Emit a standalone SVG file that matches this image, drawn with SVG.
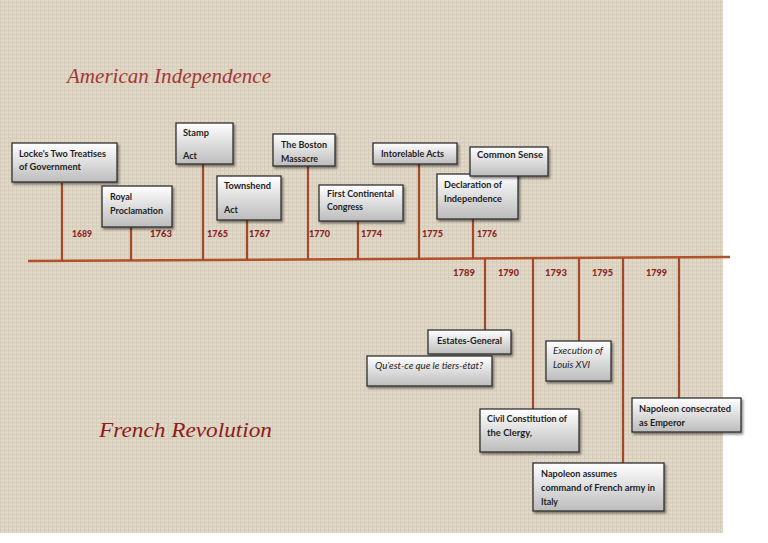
<svg xmlns="http://www.w3.org/2000/svg" width="768" height="543" viewBox="0 0 768 543">
<style>
.box{fill:url(#g);stroke:#2e2e2e;stroke-width:1.3;filter:url(#sh)}
.t{font-family:Lato,"Liberation Sans",Arial,sans-serif;font-size:9.5px;font-weight:bold;fill:#1e1e1e}
.i{font-style:italic;font-weight:normal}
.yr{font-family:Lato,"Liberation Sans",Arial,sans-serif;font-size:9.5px;font-weight:900;fill:#8a2424}
.stem{stroke:#a5482a;stroke-width:2.2;fill:none}
.ttl{font-family:"Liberation Serif","DejaVu Serif",serif;font-style:italic}
</style>
<defs>
<linearGradient id="g" x1="0" y1="0" x2="0" y2="1">
<stop offset="0" stop-color="#ffffff"/>
<stop offset="1" stop-color="#bcbcbc"/>
</linearGradient>
<filter id="sh" x="-10%" y="-10%" width="130%" height="140%">
<feDropShadow dx="1.5" dy="2" stdDeviation="1.2" flood-color="#000" flood-opacity="0.45"/>
</filter>
<pattern id="linen" width="4" height="4" patternUnits="userSpaceOnUse">
<rect width="4" height="4" fill="#ddd4c3"/>
<rect x="0" y="0" width="4" height="1" fill="#e3dbcc"/>
<rect x="0" y="0" width="1" height="4" fill="#d6ccba"/>
<rect x="2" y="2" width="1" height="1" fill="#d4cab7"/>
</pattern>
</defs>
<rect width="768" height="543" fill="#ffffff"/>
<rect x="0" y="0" width="723" height="533" fill="url(#linen)"/>

<text class="ttl" x="67" y="83" font-size="20" fill="#a33838" textLength="204" lengthAdjust="spacingAndGlyphs">American Independence</text>
<text class="ttl" x="99" y="437" font-size="22" fill="#8c1b1b" textLength="173" lengthAdjust="spacingAndGlyphs">French Revolution</text>

<g id="connectors">
<line x1="28" y1="261" x2="730" y2="257" stroke="#b0522b" stroke-width="2.6"/>
<line class="stem" x1="62" y1="183" x2="62" y2="261"/>
<line class="stem" x1="131" y1="227" x2="131" y2="261"/>
<line class="stem" x1="203" y1="164" x2="203" y2="260"/>
<line class="stem" x1="247" y1="220" x2="247" y2="260"/>
<line class="stem" x1="308" y1="166" x2="308" y2="260"/>
<line class="stem" x1="358" y1="221" x2="358" y2="259"/>
<line class="stem" x1="419" y1="164" x2="419" y2="259"/>
<line class="stem" x1="473" y1="219" x2="473" y2="259"/>
<line class="stem" x1="485" y1="259" x2="485" y2="330"/>
<line class="stem" x1="533" y1="258" x2="533" y2="409"/>
<line class="stem" x1="579" y1="258" x2="579" y2="341"/>
<line class="stem" x1="623" y1="258" x2="623" y2="463"/>
<line class="stem" x1="679" y1="258" x2="679" y2="398"/>
</g>

<g id="years">
<text class="yr" x="72" y="237" textLength="20" lengthAdjust="spacingAndGlyphs">1689</text>
<text class="yr" x="150" y="237" textLength="22" lengthAdjust="spacingAndGlyphs">1763</text>
<text class="yr" x="207" y="237" textLength="21" lengthAdjust="spacingAndGlyphs">1765</text>
<text class="yr" x="249" y="237" textLength="21" lengthAdjust="spacingAndGlyphs">1767</text>
<text class="yr" x="309" y="237" textLength="21" lengthAdjust="spacingAndGlyphs">1770</text>
<text class="yr" x="361" y="237" textLength="21" lengthAdjust="spacingAndGlyphs">1774</text>
<text class="yr" x="422" y="237" textLength="21" lengthAdjust="spacingAndGlyphs">1775</text>
<text class="yr" x="477" y="237" textLength="20" lengthAdjust="spacingAndGlyphs">1776</text>
<text class="yr" x="453" y="276" textLength="22" lengthAdjust="spacingAndGlyphs">1789</text>
<text class="yr" x="498" y="276" textLength="21" lengthAdjust="spacingAndGlyphs">1790</text>
<text class="yr" x="545" y="276" textLength="22" lengthAdjust="spacingAndGlyphs">1793</text>
<text class="yr" x="592" y="276" textLength="21" lengthAdjust="spacingAndGlyphs">1795</text>
<text class="yr" x="646" y="276" textLength="21" lengthAdjust="spacingAndGlyphs">1799</text>
</g>

<g id="locke">
<rect class="box" x="12" y="143" width="105" height="39"/>
<text class="t" x="19" y="157" textLength="87" lengthAdjust="spacingAndGlyphs">Locke's Two Treatises</text>
<text class="t" x="19" y="170" textLength="62" lengthAdjust="spacingAndGlyphs">of Government</text>
</g>
<g id="royal">
<rect class="box" x="102" y="186" width="70" height="41"/>
<text class="t" x="110" y="200" textLength="22" lengthAdjust="spacingAndGlyphs">Royal</text>
<text class="t" x="110" y="214" textLength="53" lengthAdjust="spacingAndGlyphs">Proclamation</text>
</g>
<g id="stamp">
<rect class="box" x="176" y="123" width="57" height="41"/>
<text class="t" x="183" y="136" textLength="26" lengthAdjust="spacingAndGlyphs">Stamp</text>
<text class="t" x="183" y="159" textLength="14" lengthAdjust="spacingAndGlyphs">Act</text>
</g>
<g id="townshend">
<rect class="box" x="217" y="176" width="64" height="44"/>
<text class="t" x="224" y="189" textLength="47" lengthAdjust="spacingAndGlyphs">Townshend</text>
<text class="t" x="224" y="213" textLength="14" lengthAdjust="spacingAndGlyphs">Act</text>
</g>
<g id="boston">
<rect class="box" x="273" y="134" width="62" height="32"/>
<text class="t" x="281" y="148" textLength="46" lengthAdjust="spacingAndGlyphs">The Boston</text>
<text class="t" x="281" y="162" textLength="37" lengthAdjust="spacingAndGlyphs">Massacre</text>
</g>
<g id="congress">
<rect class="box" x="319" y="185" width="84" height="36"/>
<text class="t" x="327" y="197" textLength="67" lengthAdjust="spacingAndGlyphs">First Continental</text>
<text class="t" x="327" y="210" textLength="36" lengthAdjust="spacingAndGlyphs">Congress</text>
</g>
<g id="intolerable">
<rect class="box" x="373" y="143" width="84" height="21"/>
<text class="t" x="381" y="157" textLength="63" lengthAdjust="spacingAndGlyphs">Intorelable Acts</text>
</g>
<g id="declaration">
<rect class="box" x="437" y="174" width="81" height="45"/>
<text class="t" x="444" y="188" textLength="58" lengthAdjust="spacingAndGlyphs">Declaration of</text>
<text class="t" x="444" y="202" textLength="58" lengthAdjust="spacingAndGlyphs">Independence</text>
</g>
<g id="commonsense">
<rect class="box" x="470" y="147" width="78" height="29"/>
<text class="t" x="477" y="158" textLength="66" lengthAdjust="spacingAndGlyphs">Common Sense</text>
</g>
<g id="estates">
<rect class="box" x="428" y="330" width="83" height="24"/>
<text class="t" x="437" y="344" textLength="65" lengthAdjust="spacingAndGlyphs">Estates-General</text>
</g>
<g id="tiersetat">
<rect class="box" x="367" y="356" width="125" height="30"/>
<text class="t i" x="375" y="369" textLength="108" lengthAdjust="spacingAndGlyphs">Qu’est-ce que le tiers-état?</text>
</g>
<g id="execution">
<rect class="box" x="546" y="341" width="65" height="40"/>
<text class="t i" x="553" y="354" textLength="50" lengthAdjust="spacingAndGlyphs">Execution of</text>
<text class="t i" x="553" y="368" textLength="37" lengthAdjust="spacingAndGlyphs">Louis XVI</text>
</g>
<g id="civil">
<rect class="box" x="480" y="409" width="99" height="43"/>
<text class="t" x="487" y="422" textLength="80" lengthAdjust="spacingAndGlyphs">Civil Constitution of</text>
<text class="t" x="487" y="436" textLength="45" lengthAdjust="spacingAndGlyphs">the Clergy,</text>
</g>
<g id="consecrated">
<rect class="box" x="632" y="398" width="109" height="34"/>
<text class="t" x="639" y="412" textLength="92" lengthAdjust="spacingAndGlyphs">Napoleon consecrated</text>
<text class="t" x="639" y="426" textLength="46" lengthAdjust="spacingAndGlyphs">as Emperor</text>
</g>
<g id="assumes">
<rect class="box" x="533" y="463" width="131" height="48"/>
<text class="t" x="541" y="477" textLength="76" lengthAdjust="spacingAndGlyphs">Napoleon assumes</text>
<text class="t" x="541" y="491" textLength="114" lengthAdjust="spacingAndGlyphs">command of French army in</text>
<text class="t" x="541" y="505" textLength="17" lengthAdjust="spacingAndGlyphs">Italy</text>
</g>
</svg>
